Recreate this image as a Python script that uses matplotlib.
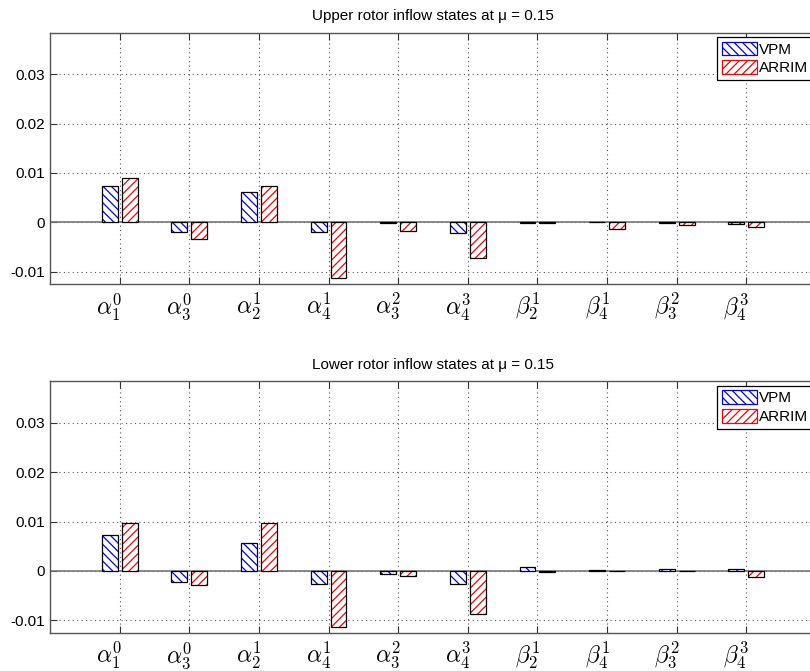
import numpy as np
import matplotlib
matplotlib.use('Agg')
import matplotlib.pyplot as plt
import matplotlib.transforms as mtransforms

states = [r'$\alpha_1^0$', r'$\alpha_3^0$', r'$\alpha_2^1$', r'$\alpha_4^1$', r'$\alpha_3^2$',
          r'$\alpha_4^3$', r'$\beta_2^1$', r'$\beta_4^1$', r'$\beta_3^2$', r'$\beta_4^3$']

upper_vpm = [0.0074, -0.0019, 0.0062, -0.0019, -0.0001, -0.0022, -0.0001, 0.0, -0.00005, -0.0003]
upper_arrim = [0.0090, -0.0034, 0.0074, -0.0112, -0.0017, -0.0072, -0.0001, -0.0014, -0.0006, -0.0009]

lower_vpm = [0.0072, -0.0022, 0.0057, -0.0026, -0.0007, -0.0026, 0.00075, 0.0001, 0.0004, 0.0004]
lower_arrim = [0.0097, -0.0029, 0.0097, -0.0114, -0.0010, -0.0087, -0.0002, 0.0, 0.0, -0.00115]

yticks = [-0.01, 0, 0.01, 0.02, 0.03]
ytick_labels = ['-0.01', '0', '0.01', '0.02', '0.03']

plt.rcParams['font.family'] = ['Liberation Sans', 'DejaVu Sans']
plt.rcParams['font.size'] = 11
plt.rcParams['mathtext.fontset'] = 'cm'
plt.rcParams['hatch.linewidth'] = 0.9

fig = plt.figure(figsize=(8.1, 6.71), dpi=100)

panels = [
    ('Upper rotor inflow states at \u03bc = 0.15', upper_vpm, upper_arrim, 0.5768),
    ('Lower rotor inflow states at \u03bc = 0.15', lower_vpm, lower_arrim, 0.0571),
]

x = np.arange(1, len(states) + 1)
w = 0.229
off = 0.143
hb = '\\\\\\\\'
hr = '////'

for title, vpm, arrim, bottom in panels:
    ax = fig.add_axes([0.0617, bottom, 0.9457, 0.3745])
    # hatch in colour, outline in black
    ax.bar(x - off, vpm, w, facecolor='white', edgecolor='blue', hatch=hb, linewidth=0, zorder=3)
    ax.bar(x + off, arrim, w, facecolor='white', edgecolor='red', hatch=hr, linewidth=0, zorder=3)
    ax.bar(x - off, vpm, w, fill=False, edgecolor='black', linewidth=0.9, zorder=4)
    ax.bar(x + off, arrim, w, fill=False, edgecolor='black', linewidth=0.9, zorder=4)
    ax.axhline(0, color='#777777', linewidth=1.2, zorder=2)

    # legend handles
    h1 = plt.Rectangle((0, 0), 1, 1, facecolor='white', edgecolor='blue', hatch=hb, linewidth=0.9)
    h2 = plt.Rectangle((0, 0), 1, 1, facecolor='white', edgecolor='red', hatch=hr, linewidth=0.9)
    leg = ax.legend([h1, h2], ['VPM', 'ARRIM'], loc='upper left', bbox_to_anchor=(0.871, 0.983),
                    fancybox=False, framealpha=1, edgecolor='black', fontsize=11,
                    handlelength=2.3, handleheight=1.0, handletextpad=0.15,
                    borderpad=0.3, labelspacing=0.25, borderaxespad=0)
    leg.get_frame().set_linewidth(0.9)

    ax.set_xlim(0, 11)
    ax.set_ylim(-0.0125, 0.0384)
    ax.set_xticks(x)
    ax.set_xticklabels(states, fontsize=17)
    ax.set_yticks(yticks)
    ax.set_yticklabels(ytick_labels)
    ax.tick_params(direction='in', top=True, right=True, length=5, width=0.8,
                   colors='#333333', labelcolor='black')
    ax.tick_params(axis='x', pad=5)
    # labels sit a little left of their ticks, as in the original
    shift = mtransforms.ScaledTranslation(-10 / 100, 0, fig.dpi_scale_trans)
    for lab in ax.get_xticklabels():
        lab.set_transform(lab.get_transform() + shift)
    ax.grid(True, linestyle=(0, (1, 3)), color='#555555', linewidth=0.8, zorder=0)
    ax.set_axisbelow(True)
    for s in ax.spines.values():
        s.set_color('#555555')
        s.set_linewidth(1.0)
    ax.set_title(title, fontsize=11, pad=9)

fig.savefig('out.png', dpi=100)
